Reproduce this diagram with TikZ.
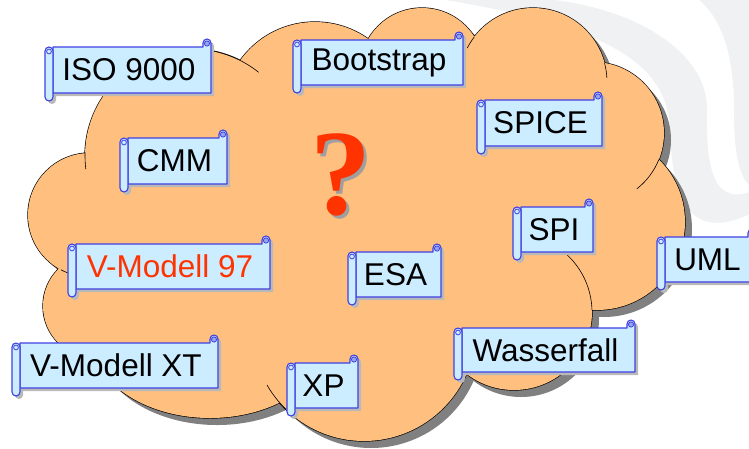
\documentclass[tikz,border=0pt]{standalone}
\usepackage{fontspec}
\setmainfont{Liberation Sans}
\newfontfamily\qfont{Liberation Serif}
\definecolor{cloudfill}{RGB}{255,191,127}
\definecolor{cloudshadow}{RGB}{128,128,128}
\definecolor{scrollfill}{RGB}{204,236,255}
\definecolor{scrollline}{RGB}{64,64,226}
\definecolor{curlfill}{RGB}{150,166,232}
\definecolor{alarm}{RGB}{255,51,0}
\definecolor{swoosh}{RGB}{240,241,243}

% cloud built from overlapping bumps plus a core polygon
\tikzset{
  cloudshape/.style={insert path={
    (192,156) circle[radius=107] (315,114) circle[radius=92]
    (422,70) circle[radius=62]   (533,82) circle[radius=74]
    (593,133) circle[radius=71]  (597,222) circle[radius=88]
    (514,312) circle[radius=78]  (364,329) circle[radius=112]
    (210,335) ellipse[x radius=120,y radius=83]
    (95,306) circle[radius=52]   (90,215) circle[radius=62]}},
  cloudcore/.style={insert path={
    (192,156) -- (315,114) -- (422,70) -- (533,82) -- (593,133) -- (597,222)
    -- (514,312) -- (364,329) -- (210,335) -- (95,306) -- (90,215) -- cycle}},
  crease/.style={draw=black,line width=0.6pt},
  scrollpart/.style={fill=scrollfill,draw=scrollline,line width=1.1pt,line join=round},
  scrollshadow/.style={fill=gray!55},
  curl/.style={fill=curlfill,draw=scrollline,line width=0.8pt},
  scrolltext/.style={font=\fontsize{31.5}{32}\selectfont,inner sep=0pt},
  qmark/.style={font=\fontsize{122}{122}\qfont\bfseries,inner sep=0pt},
}

% arc on a bump circle: centre x, centre y, start angle, end angle, radius
\newcommand\crease[5]{\draw[crease] ([shift={(#3:#5)}]#1,#2) arc[start angle=#3,end angle=#4,radius=#5];}

% scroll label: [text colour] name, x0, y0, x1, y1, text
\newcommand\scrollbox[7][black]{%
  \fill[scrollshadow,shift={(3,3)}] (#3+8,#4+8) -- (#5-8,#4+8) -- (#5-8,#4+4)
    arc[start angle=180,end angle=360,radius=4] -- (#5,#6-8) -- (#3+8,#6-8) -- cycle;
  \fill[scrollshadow,shift={(3,3)}] (#3,#4+12) arc[start angle=180,end angle=360,radius=4]
    -- (#3+8,#6-4) arc[start angle=0,end angle=180,radius=4] -- cycle;
  \filldraw[scrollpart] (#3+8,#4+8) -- (#5-8,#4+8) -- (#5-8,#4+4)
    arc[start angle=180,end angle=360,radius=4] -- (#5,#6-8) -- (#3+8,#6-8) -- cycle;
  \filldraw[curl] (#5-4,#4+4.5) circle[radius=2.6];
  \filldraw[scrollpart] (#3,#4+12) arc[start angle=180,end angle=360,radius=4]
    -- (#3+8,#6-4) arc[start angle=0,end angle=180,radius=4] -- cycle;
  \draw[scrollline,line width=0.8pt] (#3+4,#4+12.5) circle[radius=2.4];
  \node[scrolltext,text=#1] (#2) at ({(#3+8+#5)/2-3},{(#4+#6)/2}) {#7};
}

\begin{document}
\begin{tikzpicture}[x=1pt,y=-1pt]
\useasboundingbox (0,0) rectangle (749,448);
\fill[white] (0,0) rectangle (749,448);

% faint background swooshes at the top right
\fill[swoosh] (440,-1) .. controls (600,25) and (668,60) .. (670,130)
  .. controls (672,200) and (690,242) .. (750,214) -- (750,192)
  .. controls (712,205) and (706,165) .. (707,110)
  .. controls (708,55) and (640,8) .. (545,-1) -- cycle;
\fill[swoosh] (698,-1) .. controls (724,20) and (734,60) .. (734,110)
  .. controls (734,150) and (738,175) .. (750,186) -- (750,-1) -- cycle;

% cloud: shadow, outline, fill, creases
\fill[cloudshadow,shift={(7,7)},cloudshape];
\fill[cloudshadow,shift={(7,7)},cloudcore];
\filldraw[fill=cloudfill,draw=black,line width=1.3pt,cloudshape];
\fill[cloudfill,cloudshape];
\fill[cloudfill,cloudcore];
\crease{192}{156}{-78.6}{-51.5}{107}
\crease{192}{156}{-178}{-187}{107}
\crease{533}{82}{-142.7}{-152.7}{74}
\crease{533}{82}{-14.8}{-3}{74}
\crease{593}{133}{22}{52}{71}
\crease{514}{312}{-1.5}{-52}{78}
\crease{364}{329}{134}{150}{112}
\crease{90}{215}{118}{105}{62}

% question mark with its drop shadow
\node[qmark,anchor=base] (question) at (341,214)
  {\rlap{\kern3pt\raisebox{-3pt}{\textcolor{gray!75}{?}}}\textcolor{alarm}{?}};

% labels
\scrollbox{iso}{45}{39}{211}{101}{ISO 9000}
\scrollbox{boot}{293}{32}{463}{93}{Bootstrap}
\scrollbox{cmm}{120}{130}{227}{192}{CMM}
\scrollbox{spice}{477}{92}{602}{154}{SPICE}
\scrollbox{spi}{513}{199}{593}{260}{SPI}
\scrollbox{uml}{657}{229}{756}{290}{UML}
\scrollbox{esa}{348}{244}{441}{305}{ESA}
\scrollbox[alarm]{vm97}{68}{236}{270}{297}{V-Modell 97}
\scrollbox{vmxt}{12}{335}{218}{396}{V-Modell XT}
\scrollbox{xp}{287}{355}{358}{416}{XP}
\scrollbox{wf}{454}{320}{635}{380}{Wasserfall}
\end{tikzpicture}
\end{document}
